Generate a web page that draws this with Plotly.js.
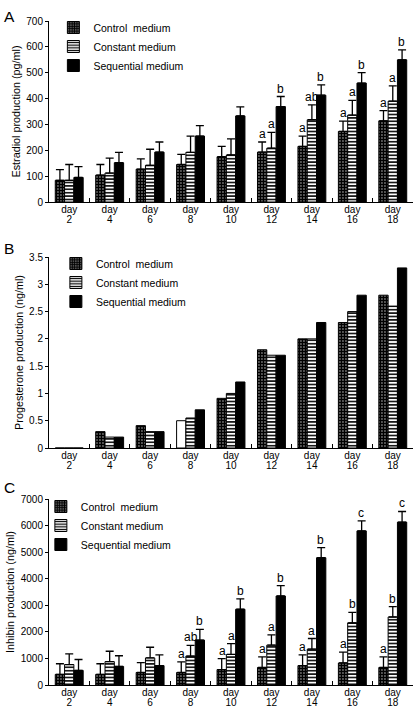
<!DOCTYPE html>
<html>
<head>
<meta charset="utf-8">
<script src="https://cdn.plot.ly/plotly-3.0.1.min.js"></script>
<style>html,body{margin:0;padding:0;background:#fff;}#chart{width:417px;height:713px;}</style>
</head>
<body>
<div id="chart"></div>
<script>
// ---------- data ----------
const days = [2, 4, 6, 8, 10, 12, 14, 16, 18];
const seriesNames = ['Control  medium', 'Constant medium', 'Sequential medium'];

// Panel A: Estradiol (pg/ml)
const estradiolControl    = [84, 104, 127, 145, 175, 193, 215, 273, 314];
const estradiolConstant   = [84, 112, 142, 192, 182, 208, 318, 336, 390];
const estradiolSequential = [95, 152, 193, 255, 333, 369, 413, 460, 550];
const estradiolErrControl    = [41, 41, 40, 39, 40, 39, 40, 40, 39];
const estradiolErrConstant   = [61, 58, 62, 63, 62, 61, 58, 57, 59];
const estradiolErrSequential = [42, 40, 39, 40, 35, 39, 40, 40, 38];
const estradiolLetControl    = ['', '', '', '', '', 'a', 'a', 'a', 'a'];
const estradiolLetConstant   = ['', '', '', '', '', 'a', 'ab', 'a', 'a'];
const estradiolLetSequential = ['', '', '', '', '', 'b', 'b', 'b', 'b'];

// Panel B: Progesterone (ng/ml)
const progControl    = [0, 0.30, 0.41, 0.50, 0.91, 1.80, 2.00, 2.30, 2.80];
const progConstant   = [0, 0.20, 0.30, 0.55, 1.00, 1.70, 2.00, 2.50, 2.60];
const progSequential = [0, 0.20, 0.30, 0.70, 1.21, 1.70, 2.30, 2.80, 3.30];

// Panel C: Inhibin (ng/ml)
const inhibinControl    = [400, 400, 470, 470, 580, 660, 730, 830, 660];
const inhibinConstant   = [770, 880, 1020, 1090, 1150, 1500, 1350, 2340, 2560];
const inhibinSequential = [550, 700, 730, 1690, 2850, 3350, 4790, 5800, 6130];
const inhibinErrControl    = [400, 400, 370, 400, 410, 400, 400, 410, 400];
const inhibinErrConstant   = [400, 390, 400, 400, 410, 390, 400, 390, 390];
const inhibinErrSequential = [410, 400, 400, 400, 390, 390, 380, 380, 400];
const inhibinLetControl    = ['', '', '', 'a', 'a', 'a', 'a', 'a', 'a'];
const inhibinLetConstant   = ['', '', '', 'ab', 'a', 'a', 'a', 'b', 'b'];
const inhibinLetSequential = ['', '', '', 'b', 'b', 'b', 'b', 'c', 'c'];

// ---------- styles ----------
const FONT = 'Arial, "Liberation Sans", sans-serif';
const categories = days.map(d => 'day ' + d);
const zeros = days.map(() => 0);
const patControl  = {shape: '.', fgcolor: '#000', bgcolor: '#fff', size: 3, solidity: 0.8};
const patConstant = {shape: '-', fgcolor: '#000', bgcolor: '#fff', size: 3.4, solidity: 0.45};
const progControlShapes = days.map(d => (d === 8 ? '' : '.'));

function bar(name, y, err, xa, ya, leg, pattern, color) {
  const t = {
    type: 'bar', name: name, x: categories, y: y, xaxis: xa, yaxis: ya,
    legend: leg, showlegend: true,
    marker: {color: color, line: {color: '#000', width: 1}},
    hoverinfo: 'y'
  };
  if (pattern) t.marker.pattern = pattern;
  if (err) t.error_y = {type: 'data', symmetric: false, array: err, arrayminus: zeros,
                        color: '#000', thickness: 1.3, width: 4};
  return t;
}
// empty helper traces that bind the label-only x axes to a subplot
function labelHolder(xa, ya) {
  return {type: 'scatter', mode: 'markers', x: [null], y: [null], xaxis: xa, yaxis: ya,
          showlegend: false, hoverinfo: 'skip', marker: {opacity: 0}};
}

const traces = [
  bar(seriesNames[0], estradiolControl, estradiolErrControl, 'x', 'y', 'legend', patControl, '#fff'),
  bar(seriesNames[1], estradiolConstant, estradiolErrConstant, 'x', 'y', 'legend', patConstant, '#fff'),
  bar(seriesNames[2], estradiolSequential, estradiolErrSequential, 'x', 'y', 'legend', null, '#000'),
  bar(seriesNames[0], progControl, null, 'x2', 'y2', 'legend2', Object.assign({}, patControl, {shape: progControlShapes}), '#fff'),
  bar(seriesNames[1], progConstant, null, 'x2', 'y2', 'legend2', patConstant, '#fff'),
  bar(seriesNames[2], progSequential, null, 'x2', 'y2', 'legend2', null, '#000'),
  bar(seriesNames[0], inhibinControl, inhibinErrControl, 'x3', 'y3', 'legend3', patControl, '#fff'),
  bar(seriesNames[1], inhibinConstant, inhibinErrConstant, 'x3', 'y3', 'legend3', patConstant, '#fff'),
  bar(seriesNames[2], inhibinSequential, inhibinErrSequential, 'x3', 'y3', 'legend3', null, '#000'),
  labelHolder('x4', 'y'), labelHolder('x5', 'y'),
  labelHolder('x6', 'y2'), labelHolder('x7', 'y2'),
  labelHolder('x8', 'y3'), labelHolder('x9', 'y3')
];

// ---------- layout ----------
const W = 417, H = 713;
const xDomain = [49 / W, 413 / W];
const BARGAP = 0.31;
const catPx = (xDomain[1] - xDomain[0]) * W / days.length;
const barPx = catPx * (1 - BARGAP) / 3;
const panels = [[202, 21], [448, 257], [685, 499]]; // plot-area pixel bounds [bottom, top]

function xaxis(anchor) {
  return {
    domain: xDomain, anchor: anchor, type: 'category', tickson: 'boundaries',
    ticks: 'inside', ticklen: 4, tickcolor: '#000', tickwidth: 1,
    showline: true, linecolor: '#000', linewidth: 1, showgrid: false, zeroline: false,
    showticklabels: false, fixedrange: true, automargin: false
  };
}
// label-only axes: one row for "day", one for the day number
function labelAxis(overlay, bottomPx, dropPx, texts) {
  return {
    overlaying: overlay, anchor: 'free', position: 1 - (bottomPx + dropPx) / H,
    domain: xDomain, range: [-0.5, days.length - 0.5], tickmode: 'array',
    tickvals: days.map((d, i) => i), ticktext: texts,
    ticks: '', showline: false, showgrid: false, zeroline: false, showticklabels: true,
    tickfont: {family: FONT, size: 10, color: '#000'}, fixedrange: true, automargin: false
  };
}
function yaxis(anchor, dom, range, dtick, title) {
  return {
    domain: dom, anchor: anchor, range: range, dtick: dtick, tick0: 0,
    ticks: 'outside', ticklen: 3, tickcolor: '#000', tickwidth: 1,
    showline: true, linecolor: '#000', linewidth: 1, showgrid: false, zeroline: false,
    tickfont: {family: FONT, size: 10, color: '#000'},
    title: {text: title, font: {family: FONT, size: 10.8, color: '#000'}, standoff: 3},
    fixedrange: true, automargin: false
  };
}
function legend(x, y) {
  return {x: x, y: y, xanchor: 'left', yanchor: 'top', bgcolor: 'rgba(0,0,0,0)',
          font: {family: FONT, size: 10.5, color: '#000'}, tracegroupgap: 0,
          itemclick: false, itemdoubleclick: false};
}

const annotations = [];
function letters(lets, vals, errs, idx, xref, yref) {
  lets.forEach((s, i) => {
    if (!s) return;
    annotations.push({
      text: s, x: categories[i], y: vals[i] + errs[i], xref: xref, yref: yref,
      xshift: Math.round((idx - 1) * barPx), yshift: -1, xanchor: 'center', yanchor: 'bottom',
      showarrow: false, font: {family: FONT, size: 12, color: 'black'}
    });
  });
}
letters(estradiolLetControl, estradiolControl, estradiolErrControl, 0, 'x', 'y');
letters(estradiolLetConstant, estradiolConstant, estradiolErrConstant, 1, 'x', 'y');
letters(estradiolLetSequential, estradiolSequential, estradiolErrSequential, 2, 'x', 'y');
letters(inhibinLetControl, inhibinControl, inhibinErrControl, 0, 'x3', 'y3');
letters(inhibinLetConstant, inhibinConstant, inhibinErrConstant, 1, 'x3', 'y3');
letters(inhibinLetSequential, inhibinSequential, inhibinErrSequential, 2, 'x3', 'y3');

[['A', 6], ['B', 238], ['C', 477]].forEach(([t, top]) => {
  annotations.push({text: t, xref: 'paper', yref: 'paper', x: 2 / W, y: 1 - top / H,
    xanchor: 'left', yanchor: 'top', showarrow: false,
    font: {family: FONT, size: 15.5, color: '#000'}});
});

const dayWords = days.map(() => 'day');
const dayNums = days.map(d => String(d));

const layout = {
  width: W, height: H,
  margin: {l: 0, r: 0, t: 0, b: 0},
  paper_bgcolor: '#fff', plot_bgcolor: '#fff',
  barmode: 'group', bargap: BARGAP, bargroupgap: 0,
  font: {family: FONT, color: '#000'},
  xaxis: xaxis('y'),
  yaxis: yaxis('x', [1 - 202 / H, 1 - 21 / H], [0, 700], 100, 'Estradiol production (pg/ml)'),
  xaxis2: xaxis('y2'),
  yaxis2: yaxis('x2', [1 - 448 / H, 1 - 257 / H], [0, 3.5], 0.5, 'Progesterone production (ng/ml)'),
  xaxis3: xaxis('y3'),
  yaxis3: yaxis('x3', [1 - 685 / H, 1 - 499 / H], [0, 7000], 1000, 'Inhibin production (ng/ml)'),
  xaxis4: labelAxis('x', panels[0][0], 0, dayWords),
  xaxis5: labelAxis('x', panels[0][0], 10, dayNums),
  xaxis6: labelAxis('x2', panels[1][0], 0, dayWords),
  xaxis7: labelAxis('x2', panels[1][0], 10, dayNums),
  xaxis8: labelAxis('x3', panels[2][0], 0, dayWords),
  xaxis9: labelAxis('x3', panels[2][0], 10, dayNums),
  legend: legend(0.128, 1 - 13 / H),
  legend2: legend(0.134, 1 - 249 / H),
  legend3: legend(0.098, 1 - 492 / H),
  annotations: annotations,
  showlegend: true
};

Plotly.newPlot('chart', traces, layout, {displayModeBar: false, staticPlot: true});
</script>
</body>
</html>
